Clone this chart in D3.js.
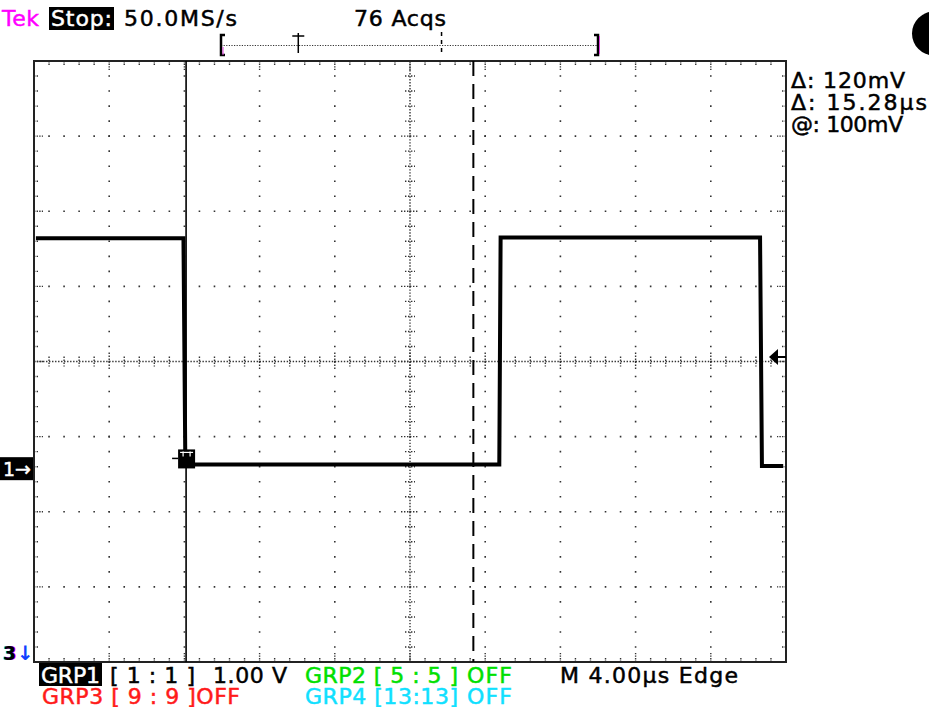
<!DOCTYPE html>
<html lang="en">
<head>
<meta charset="UTF-8">
<title>Tek scope capture</title>
<style>
  body { margin: 0; background: #fff; }
  text { font-family: "DejaVu Sans", Verdana, sans-serif; font-size: 22px; }
</style>
</head>
<body>
<script src="https://cdnjs.cloudflare.com/ajax/libs/d3/7.8.5/d3.min.js"></script>
<script>
// trace of channel 1 (time in µs, level in volts)
const traceTime  = [0.1, 7.95, 8.05, 24.75, 24.82, 38.62, 38.72, 39.85]
const traceVolts = [3.06, 3.06, 0.05, 0.05, 3.07, 3.07, 0.03, 0.03]

// time cursors (µs), trigger level (V)
const cursorTimes = [8.09, 23.37]
const triggerLevel = 1.48
const chOffset = -1.42   // divisions, channel 1 ground marker

const secPerDiv = 4      // µs
const voltsPerDiv = 1.0

let width = 929
let height = 707

let svg = d3.select("body").append("svg")
    .attr("width", width)
    .attr("height", height)

let x = d3.scaleLinear().domain([0, 10 * secPerDiv]).range([34, 786])
let yDiv = d3.scaleLinear().domain([-4, 4]).range([662, 61])
let y = v => yDiv(v / voltsPerDiv + chOffset)

let x0 = x(0), x1 = x(40), y0 = yDiv(4), y1 = yDiv(-4)
let minorX = (x1 - x0) / 50, minorY = (y1 - y0) / 40
let g = svg.append("g")

// graticule dotted lines
d3.range(1, 10).filter(d => d != 5).forEach(d => {
    g.append("line")
        .attr("x1", x(d * secPerDiv)).attr("x2", x(d * secPerDiv))
        .attr("y1", y0).attr("y2", y1)
        .attr("stroke", "#333").attr("stroke-width", 1.6)
        .attr("stroke-dasharray", "1.6 " + (minorY - 1.6))
        .attr("stroke-dashoffset", 0.8)
})
d3.range(-3, 4).filter(d => d != 0).forEach(d => {
    g.append("line")
        .attr("x1", x0).attr("x2", x1)
        .attr("y1", yDiv(d)).attr("y2", yDiv(d))
        .attr("stroke", "#333").attr("stroke-width", 1.6)
        .attr("stroke-dasharray", "1.6 " + (minorX - 1.6))
        .attr("stroke-dashoffset", 0.8)
})

// center cross with minor ticks
g.append("line")
    .attr("x1", x0).attr("x2", x1).attr("y1", yDiv(0)).attr("y2", yDiv(0))
    .attr("stroke", "#333").attr("stroke-width", 1.4)
    .attr("stroke-dasharray", "1.4 " + (minorX / 5 - 1.4))
g.append("line")
    .attr("x1", x(20)).attr("x2", x(20)).attr("y1", y0).attr("y2", y1)
    .attr("stroke", "#333").attr("stroke-width", 1.4)
    .attr("stroke-dasharray", "1.4 " + (minorY / 5 - 1.4))

d3.range(1, 50).forEach(i => {
    let xx = x0 + i * minorX
    let len = i % 5 == 0 ? 9 : 5
    g.append("line")
        .attr("x1", xx).attr("x2", xx)
        .attr("y1", yDiv(0) - len).attr("y2", yDiv(0) + len)
        .attr("stroke", "#333").attr("stroke-width", 1.4)
        .attr("stroke-dasharray", "1.4 1.6")
    // border ticks top / bottom
    let bl = i % 5 == 0 ? 9 : 4
    g.append("line").attr("x1", xx).attr("x2", xx).attr("y1", y0).attr("y2", y0 + bl)
        .attr("stroke", "#333").attr("stroke-width", 1.4).attr("stroke-dasharray", "1.4 1.2")
    g.append("line").attr("x1", xx).attr("x2", xx).attr("y1", y1).attr("y2", y1 - bl)
        .attr("stroke", "#333").attr("stroke-width", 1.4).attr("stroke-dasharray", "1.4 1.2")
})
d3.range(1, 40).forEach(i => {
    let yy = y0 + i * minorY
    let len = i % 5 == 0 ? 9 : 5
    g.append("line")
        .attr("x1", x(20) - len).attr("x2", x(20) + len)
        .attr("y1", yy).attr("y2", yy)
        .attr("stroke", "#333").attr("stroke-width", 1.4)
        .attr("stroke-dasharray", "1.4 1.6")
    let bl = i % 5 == 0 ? 9 : 4
    g.append("line").attr("x1", x0).attr("x2", x0 + bl).attr("y1", yy).attr("y2", yy)
        .attr("stroke", "#333").attr("stroke-width", 1.4).attr("stroke-dasharray", "1.4 1.2")
    g.append("line").attr("x1", x1).attr("x2", x1 - bl).attr("y1", yy).attr("y2", yy)
        .attr("stroke", "#333").attr("stroke-width", 1.4).attr("stroke-dasharray", "1.4 1.2")
})

// border
g.append("rect")
    .attr("x", x0).attr("y", y0)
    .attr("width", x1 - x0).attr("height", y1 - y0)
    .attr("fill", "none").attr("stroke", "#222").attr("stroke-width", 2)

// cursors
svg.append("line")
    .attr("x1", x(cursorTimes[0])).attr("x2", x(cursorTimes[0]))
    .attr("y1", y0).attr("y2", y1)
    .attr("stroke", "#000").attr("stroke-width", 1.6)
svg.append("line")
    .attr("x1", x(cursorTimes[1])).attr("x2", x(cursorTimes[1]))
    .attr("y1", y0).attr("y2", y1)
    .attr("stroke", "#000").attr("stroke-width", 2)
    .attr("stroke-dasharray", "15 8")

// trace
let line = d3.line()
    .x((d, i) => x(traceTime[i]))
    .y(d => y(d))
svg.append("path")
    .datum(traceVolts)
    .attr("d", line)
    .attr("fill", "none")
    .attr("stroke", "#000")
    .attr("stroke-width", 4)

// cursor marker box on the falling edge
let cx = x(cursorTimes[0]), cy = y(traceVolts[2])
svg.append("rect").attr("x", cx - 8).attr("y", cy - 15).attr("width", 17).attr("height", 19).attr("fill", "#000")
svg.append("line").attr("x1", cx - 14).attr("x2", cx - 8).attr("y1", cy - 6).attr("y2", cy - 6).attr("stroke", "#000").attr("stroke-width", 1.5)
svg.append("line").attr("x1", cx - 6).attr("x2", cx + 7).attr("y1", cy - 12).attr("y2", cy - 12).attr("stroke", "#fff").attr("stroke-width", 1.2)
svg.append("line").attr("x1", cx - 3).attr("x2", cx - 3).attr("y1", cy - 13).attr("y2", cy - 8).attr("stroke", "#fff").attr("stroke-width", 1.2)
svg.append("line").attr("x1", cx + 4).attr("x2", cx + 4).attr("y1", cy - 13).attr("y2", cy - 8).attr("stroke", "#fff").attr("stroke-width", 1.2)

// trigger level arrow (right)
let ty = y(triggerLevel)
svg.append("path")
    .attr("d", `M${x1 - 17},${ty} L${x1 - 8},${ty - 8} L${x1 - 8},${ty + 8} Z`)
    .attr("fill", "#000")
svg.append("line").attr("x1", x1 - 9).attr("x2", x1).attr("y1", ty).attr("y2", ty)
    .attr("stroke", "#000").attr("stroke-width", 2)

// channel 1 ground marker
let gy = y(0)
svg.append("rect").attr("x", 0).attr("y", gy - 11).attr("width", 33).attr("height", 23).attr("fill", "#000")
svg.append("text").attr("x", 3).attr("y", gy + 8).attr("fill", "#fff")
    .attr("stroke", "#fff").attr("stroke-width", 0.5)
    .attr("textLength", 28).attr("lengthAdjust", "spacingAndGlyphs").style("font-size", "20px").text("1→")

// "3" ref marker bottom-left
;[["#00e0ff", -1], ["#ff00ff", 1], ["#000", 0]].forEach(c => {
    svg.append("text").attr("x", 3 + c[1]).attr("y", 660).attr("fill", c[0])
        .style("font-size", "19px").style("font-weight", "bold").text("3")
})
svg.append("text").attr("x", 17).attr("y", 660).attr("fill", "#1040ff")
    .style("font-size", "20px").style("font-weight", "bold").text("↓")

// record view bar at top
let rec = d3.scaleLinear().domain([0, 1]).range([221, 598])
svg.append("line").attr("x1", rec(0)).attr("x2", rec(1)).attr("y1", 45.5).attr("y2", 45.5)
    .attr("stroke", "#333").attr("stroke-width", 1.2).attr("stroke-dasharray", "1.2 1.4")
svg.append("path").attr("d", `M${rec(0) + 4},35 H${rec(0)} V55 H${rec(0) + 4}`)
    .attr("fill", "none").attr("stroke", "#000").attr("stroke-width", 2.5)
svg.append("line").attr("x1", rec(0) + 2).attr("x2", rec(0) + 2).attr("y1", 47).attr("y2", 55)
    .attr("stroke", "#e040e0").attr("stroke-width", 1)
svg.append("path").attr("d", `M${rec(1) - 4},35 H${rec(1)} V55 H${rec(1) - 4}`)
    .attr("fill", "none").attr("stroke", "#000").attr("stroke-width", 2.5)
svg.append("line").attr("x1", rec(1) + 1.5).attr("x2", rec(1) + 1.5).attr("y1", 36).attr("y2", 54)
    .attr("stroke", "#e040e0").attr("stroke-width", 1)
svg.append("path").attr("d", `M${rec(0.205) - 6},36 H${rec(0.205) + 6} M${rec(0.205)},33 V53`)
    .attr("fill", "none").attr("stroke", "#000").attr("stroke-width", 1.5)
svg.append("line").attr("x1", rec(0.585)).attr("x2", rec(0.585)).attr("y1", 32).attr("y2", 55)
    .attr("stroke", "#000").attr("stroke-width", 1.5).attr("stroke-dasharray", "4 4")

// busy indicator
svg.append("circle").attr("cx", 934).attr("cy", 33.5).attr("r", 22).attr("fill", "#000")

// header and readouts
svg.append("rect").attr("x", 49).attr("y", 7).attr("width", 65).attr("height", 23).attr("fill", "#000")
svg.append("rect").attr("x", 39).attr("y", 663).attr("width", 63).attr("height", 23).attr("fill", "#000")

let labels = [
    // text, x, baseline, width, colour
    ["Tek", 2, 26, 37, "#ff00ff"],
    ["Stop:", 51, 26, 61, "#fff"],
    ["50.0MS/s", 124, 26, 113, "#000"],
    ["76 Acqs", 354, 26, 92, "#000"],
    ["Δ: 120mV", 791, 88, 114, "#000"],
    ["Δ: 15.28µs", 791, 110, 136, "#000"],
    ["@: 100mV", 791, 132, 112, "#000"],
    ["GRP1", 41, 683, 59, "#fff"],
    ["[ 1 : 1 ]", 110, 683, 85, "#000"],
    ["1.00 V", 213, 683, 74, "#000"],
    ["GRP2 [ 5 : 5 ]", 305, 683, 153, "#00e000"],
    ["OFF", 467, 683, 45, "#00e000"],
    ["M 4.00µs  Edge", 560, 683, 178, "#000"],
    ["GRP3 [ 9 : 9 ]OFF", 42, 704, 198, "#ff1a1a"],
    ["GRP4 [13:13]", 305, 704, 153, "#10e0ff"],
    ["OFF", 467, 704, 45, "#10e0ff"]
]

labels.forEach(l => {
    svg.append("text")
        .attr("x", l[1]).attr("y", l[2])
        .attr("fill", l[4])
        .attr("stroke", l[4]).attr("stroke-width", 0.5)
        .attr("textLength", l[3])
        .attr("lengthAdjust", "spacing")
        .text(l[0])
})
</script>
</body>
</html>
